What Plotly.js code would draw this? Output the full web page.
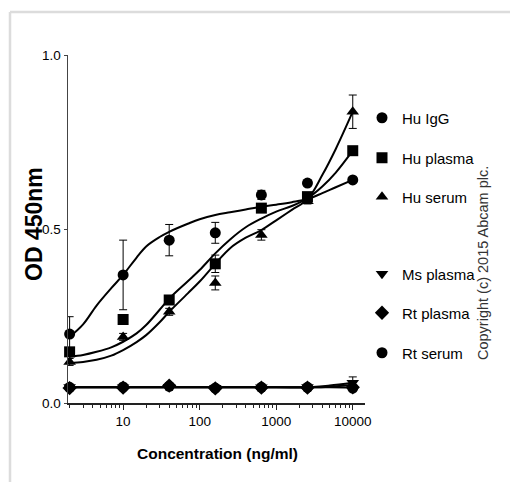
<!DOCTYPE html>
<html>
<head>
<meta charset="utf-8">
<script src="https://cdn.plot.ly/plotly-3.0.1.min.js"></script>
<style>
  html, body { margin: 0; padding: 0; background: #fff; }
  #chart { width: 510px; height: 482px; }
</style>
</head>
<body>
<div id="chart"></div>
<script>
// ---- data ----
const conc = [2, 10, 40, 160, 640, 2560, 10000];

const huIgG      = [0.198, 0.368, 0.468, 0.489, 0.598, 0.632, 0.641];
const huIgGErr   = [0.050, 0.100, 0.045, 0.030, 0.013, 0.008, 0.005];
const huPlasma   = [0.147, 0.240, 0.296, 0.400, 0.560, 0.593, 0.725];
const huPlasmaErr= [0.010, 0.010, 0.010, 0.025, 0.010, 0.008, 0.008];
const huSerum    = [0.118, 0.190, 0.262, 0.345, 0.483, 0.580, 0.837];
const huSerumErr = [0.010, 0.010, 0.010, 0.020, 0.015, 0.008, 0.048];

const msPlasma   = [0.046, 0.045, 0.047, 0.044, 0.045, 0.046, 0.058];
const msPlasmaErr= [0.003, 0.003, 0.003, 0.003, 0.003, 0.003, 0.017];
const rtPlasma   = [0.043, 0.044, 0.050, 0.042, 0.044, 0.044, 0.045];
const rtSerum    = [0.045, 0.046, 0.048, 0.043, 0.045, 0.045, 0.043];

// fitted curves
const fitX       = [2, 3, 4.5, 7, 10, 15, 20, 30, 40, 70, 100, 160, 250, 400, 640, 1000, 1600, 2560, 4000, 6000, 10000];
const huIgGFit   = [0.190, 0.226, 0.280, 0.330, 0.368, 0.418, 0.450, 0.477, 0.492, 0.515, 0.528, 0.540, 0.548, 0.556, 0.564, 0.570, 0.577, 0.586, 0.603, 0.620, 0.641];
const huPlasmaFit= [0.133, 0.138, 0.147, 0.160, 0.176, 0.200, 0.224, 0.268, 0.300, 0.350, 0.382, 0.430, 0.470, 0.505, 0.530, 0.550, 0.566, 0.588, 0.622, 0.662, 0.725];
const huSerumFit = [0.115, 0.118, 0.124, 0.136, 0.152, 0.175, 0.195, 0.232, 0.262, 0.315, 0.349, 0.400, 0.445, 0.475, 0.497, 0.525, 0.555, 0.585, 0.655, 0.730, 0.837];

const lowX       = [2, 100, 1000, 3000, 5000, 10000];
const msPlasmaFit= [0.045, 0.045, 0.045, 0.046, 0.050, 0.058];
const rtPlasmaFit= [0.045, 0.045, 0.045, 0.045, 0.047, 0.052];
const rtSerumFit = [0.045, 0.045, 0.045, 0.045, 0.045, 0.044];

const seriesNames = ['Hu IgG', 'Hu plasma', 'Hu serum', 'Ms plasma', 'Rt plasma', 'Rt serum'];
const xTickVals  = [10, 100, 1000, 10000];
const xTickText  = ['10', '100', '1000', '10000'];
const yTickVals  = [0.0, 0.5, 1.0];
const yTickText  = ['0.0', '0.5', '1.0'];

// ---- layout geometry (pixels) ----
const W = 510, H = 482;
const PL = 68, PR = 365, PT = 55, PB = 403;
const pw = PR - PL, ph = PB - PT;
const px = x => (x - PL) / pw;
const py = y => (PB - y) / ph;

const sans = 'Liberation Sans, Arial, sans-serif';

function markerTrace(name, y, err, symbol, legendId) {
  const t = {
    x: conc, y: y, type: 'scatter', mode: 'markers', name: name,
    marker: { symbol: symbol, size: 11, color: '#000' },
    legend: legendId, showlegend: true, cliponaxis: false
  };
  if (err) {
    t.error_y = { type: 'data', array: err, visible: true, color: '#000', thickness: 1, width: 4 };
  }
  return t;
}
function fitTrace(x, y) {
  return { x: x, y: y, type: 'scatter', mode: 'lines', showlegend: false,
           line: { color: '#000', width: 2, shape: 'spline', smoothing: 1 }, hoverinfo: 'skip' };
}

const data = [
  fitTrace(fitX, huIgGFit),
  fitTrace(fitX, huPlasmaFit),
  fitTrace(fitX, huSerumFit),
  fitTrace(lowX, msPlasmaFit),
  fitTrace(lowX, rtPlasmaFit),
  fitTrace(lowX, rtSerumFit),
  markerTrace(seriesNames[0], huIgG, huIgGErr, 'circle', 'legend'),
  markerTrace(seriesNames[1], huPlasma, huPlasmaErr, 'square', 'legend2'),
  markerTrace(seriesNames[2], huSerum, huSerumErr, 'triangle-up', 'legend3'),
  markerTrace(seriesNames[3], msPlasma, msPlasmaErr, 'triangle-down', 'legend4'),
  markerTrace(seriesNames[4], rtPlasma, null, 'diamond', 'legend5'),
  markerTrace(seriesNames[5], rtSerum, null, 'circle', 'legend6')
];

const legendYs = [118, 158, 197, 274, 313, 353];
function legendAt(ypix) {
  return {
    x: px(362), xanchor: 'left', y: py(ypix), yanchor: 'middle',
    bgcolor: 'rgba(0,0,0,0)', borderwidth: 0,
    font: { family: sans, size: 15, color: '#000' },
    itemclick: false, itemdoubleclick: false
  };
}

const layout = {
  width: W, height: H,
  margin: { l: PL, r: W - PR, t: PT, b: H - PB, pad: 0 },
  paper_bgcolor: '#fff', plot_bgcolor: '#fff',
  showlegend: true,
  legend: legendAt(legendYs[0]),
  legend2: legendAt(legendYs[1]),
  legend3: legendAt(legendYs[2]),
  legend4: legendAt(legendYs[3]),
  legend5: legendAt(legendYs[4]),
  legend6: legendAt(legendYs[5]),
  xaxis: {
    type: 'log', range: [0.28, 4.16],
    showgrid: false, zeroline: false,
    showline: true, linecolor: '#222', linewidth: 1.5,
    tickmode: 'array', tickvals: xTickVals, ticktext: xTickText,
    ticks: 'outside', ticklen: 5, tickwidth: 1, tickcolor: '#222',
    tickfont: { family: sans, size: 13.5, color: '#000' },
    minor: { ticks: 'outside', ticklen: 3, tickwidth: 1, tickcolor: '#222', dtick: 'D1', showgrid: false },
    fixedrange: true
  },
  yaxis: {
    range: [0, 1.0],
    showgrid: false, zeroline: false,
    showline: true, linecolor: '#444', linewidth: 1.5,
    tickmode: 'array', tickvals: yTickVals, ticktext: yTickText,
    ticks: 'outside', ticklen: 3, tickwidth: 1, tickcolor: '#444',
    tickfont: { family: sans, size: 13.5, color: '#000' },
    fixedrange: true
  },
  annotations: [
    { text: 'Concentration (ng/ml)', xref: 'paper', yref: 'paper',
      x: px(217), y: py(453), xanchor: 'center', yanchor: 'middle', showarrow: false,
      font: { family: sans, size: 15.5, color: '#000', weight: 'bold' } },
    { text: 'OD 450nm', xref: 'paper', yref: 'paper', textangle: -90,
      x: px(34), y: py(224), xanchor: 'center', yanchor: 'middle', showarrow: false,
      font: { family: sans, size: 23, color: '#000', weight: 'bold' } },
    { text: 'Copyright (c) 2015 Abcam plc.', xref: 'paper', yref: 'paper', textangle: -90,
      x: px(483), y: py(263), xanchor: 'center', yanchor: 'middle', showarrow: false,
      font: { family: sans, size: 14.5, color: '#333' } }
  ],
  shapes: [
    { type: 'line', xref: 'paper', yref: 'paper', x0: px(10), x1: px(10), y0: py(12), y1: py(H + 5),
      line: { color: '#dcdcdc', width: 2.5 }, layer: 'below' },
    { type: 'line', xref: 'paper', yref: 'paper', x0: px(10), x1: px(W + 5), y0: py(12), y1: py(12),
      line: { color: '#dcdcdc', width: 2.5 }, layer: 'below' }
  ]
};

Plotly.newPlot('chart', data, layout, { staticPlot: true, displayModeBar: false });
</script>
</body>
</html>
